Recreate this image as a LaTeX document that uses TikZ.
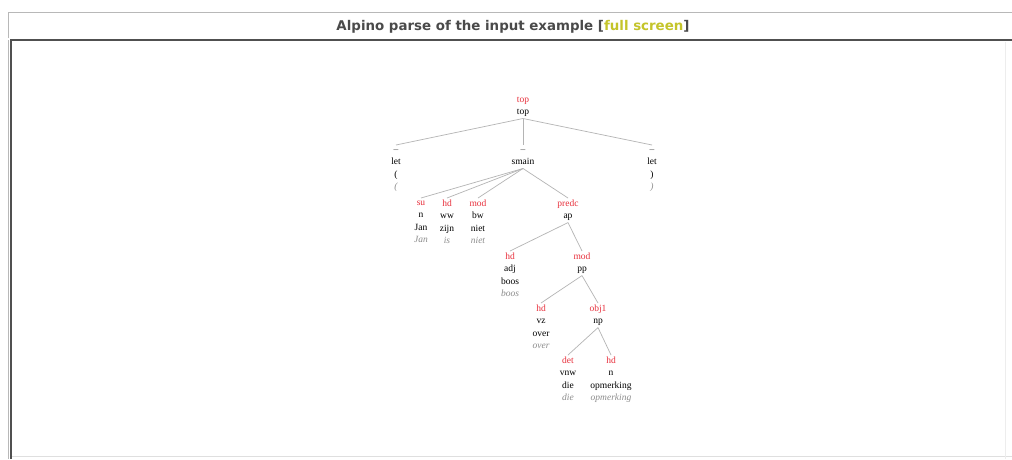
\documentclass[tikz,border=0pt]{standalone}
\usepackage{fontspec}
\setmainfont{Liberation Serif}
\newfontfamily\hdfont{DejaVu Sans}
\usetikzlibrary{calc}
\definecolor{relred}{HTML}{E8303C}
\definecolor{edgegray}{HTML}{B4B4B4}
\definecolor{lemgray}{HTML}{8C8C8C}
\definecolor{titlegray}{HTML}{4A4A4A}
\definecolor{fsyellow}{HTML}{C4C42A}
\definecolor{framedark}{HTML}{505050}
\definecolor{framelight}{HTML}{B8B8B8}
\newcommand\tlin[1]{\rule[-2.5pt]{0pt}{8pt}#1}
\newcommand\trel[1]{\tlin{\textcolor{relred}{#1}}}
\newcommand\tdsh[1]{\tlin{\textcolor{titlegray}{#1}}}
\newcommand\twrd[1]{\tlin{\textcolor{lemgray}{\itshape #1}}}
\tikzset{
  tn/.style={anchor=north, inner sep=0pt, outer sep=1.5pt, align=center,
    font=\fontsize{9.5}{12.5}\selectfont},
  br/.style={draw=edgegray, line width=0.7pt},
}
\begin{document}
\begin{tikzpicture}[x=1pt,y=-1pt]
\useasboundingbox (0,0) rectangle (1012,459);
\fill[white] (0,0) rectangle (1012,459);
% frame
\draw[framelight, line width=1pt] (8,38) -- (8,12) -- (1012,12);
\draw[framelight, line width=0.8pt] (8,40) -- (8,459);
\draw[framedark, line width=2pt] (10,40) -- (1012,40);
\draw[framedark, line width=2pt] (11,40) -- (11,459);
\draw[framelight!45, line width=0.8pt] (12,456.5) -- (1012,456.5);
\draw[framelight!25, line width=0.8pt] (1005,42) -- (1005,459);
% title
\node[inner sep=0pt, anchor=center] (title) at (513,27)
  {\resizebox{353pt}{!}{\hdfont\bfseries\textcolor{titlegray}{Alpino parse of the input example [}\textcolor{fsyellow}{full screen}\textcolor{titlegray}{]}}};
% tree nodes
\node[tn] (top) at (523,95) {\trel{top}\\\tlin{top}};
\node[tn] (let1) at (396,145) {\tdsh{--}\\\tlin{let}\\\tlin{(}\\\twrd{(}};
\node[tn] (smain) at (523,145) {\tdsh{--}\\\tlin{smain}};
\node[tn] (let2) at (652,145) {\tdsh{--}\\\tlin{let}\\\tlin{)}\\\twrd{)}};
\node[tn] (su) at (421,198) {\trel{su}\\\tlin{n}\\\tlin{Jan}\\\twrd{Jan}};
\node[tn] (hdww) at (447,198) {\trel{hd}\\\tlin{ww}\\\tlin{zijn}\\\twrd{is}};
\node[tn] (modbw) at (478,198) {\trel{mod}\\\tlin{bw}\\\tlin{niet}\\\twrd{niet}};
\node[tn] (predc) at (568,198) {\trel{predc}\\\tlin{ap}};
\node[tn] (hdadj) at (510,251) {\trel{hd}\\\tlin{adj}\\\tlin{boos}\\\twrd{boos}};
\node[tn] (modpp) at (582,251) {\trel{mod}\\\tlin{pp}};
\node[tn] (hdvz) at (541,303) {\trel{hd}\\\tlin{vz}\\\tlin{over}\\\twrd{over}};
\node[tn] (obj1) at (598,303) {\trel{obj1}\\\tlin{np}};
\node[tn] (det) at (568,355) {\trel{det}\\\tlin{vnw}\\\tlin{die}\\\twrd{die}};
\node[tn] (hdn) at (611,355) {\trel{hd}\\\tlin{n}\\\tlin{opmerking}\\\twrd{opmerking}};
% edges
\draw[br] (top.south) -- (let1.north);
\draw[br] (top.south) -- (smain.north);
\draw[br] (top.south) -- (let2.north);
\draw[br] (smain.south) -- (su.north);
\draw[br] (smain.south) -- (hdww.north);
\draw[br] (smain.south) -- (modbw.north);
\draw[br] (smain.south) -- (predc.north);
\draw[br] (predc.south) -- (hdadj.north);
\draw[br] (predc.south) -- (modpp.north);
\draw[br] (modpp.south) -- (hdvz.north);
\draw[br] (modpp.south) -- (obj1.north);
\draw[br] (obj1.south) -- (det.north);
\draw[br] (obj1.south) -- (hdn.north);
\end{tikzpicture}
\end{document}
